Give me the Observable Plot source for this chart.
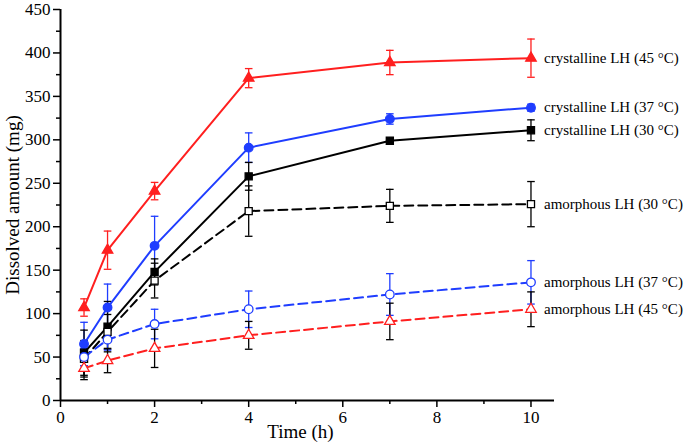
<!DOCTYPE html>
<html>
<head>
<meta charset="utf-8">
<script src="https://cdn.jsdelivr.net/npm/d3@7"></script>
<script src="https://cdn.jsdelivr.net/npm/@observablehq/plot@0.6"></script>
<style>
  html, body { margin: 0; padding: 0; background: #fff; }
  #chart svg { display: block; }
</style>
</head>
<body>
<div id="chart"></div>
<script>
// ---- data ----
const times = [0.5, 1, 2, 4, 7, 10];
const seriesNames = [
  "crystalline LH (45 °C)",
  "crystalline LH (37 °C)",
  "crystalline LH (30 °C)",
  "amorphous LH (30 °C)",
  "amorphous LH (37 °C)",
  "amorphous LH (45 °C)"
];
const cryst45 = [107, 173, 241, 371, 389, 394];
const cryst45Err = [10, 22, 10, 11, 14, 22];
const cryst37 = [65, 107, 178, 291, 324, 337];
const cryst37Err = [25, 27, 34, 17, 6, 4];
const cryst30 = [55, 85, 148, 258, 299, 311];
const cryst30Err = [26, 29, 15, 16, 3, 12];
const amorph30 = [48, 79, 138, 218, 224, 226];
const amorph30Err = [21, 20, 20, 29, 19, 26];
const amorph37 = [50, 70, 88, 105, 122, 136];
const amorph37Err = [10, 12, 17, 21, 24, 25];
const amorph45 = [37, 46, 60, 75, 91, 105];
const amorph45Err = [13, 14, 22, 16, 21, 20];
const yMajorTicks = [0, 50, 100, 150, 200, 250, 300, 350, 400, 450];
const yMinorTicks = [25, 75, 125, 175, 225, 275, 325, 375, 425];
const xMajorTicks = [0, 2, 4, 6, 8, 10];
const xMinorTicks = [1, 3, 5, 7, 9];

const RED = "#ff1f1f", BLUE = "#1f3dff", BLACK = "#000";
const styles = [
  {name: seriesNames[0], vals: cryst45, err: cryst45Err, color: RED, errColor: RED, symbol: "triangle", filled: true, dash: null},
  {name: seriesNames[1], vals: cryst37, err: cryst37Err, color: BLUE, errColor: BLUE, symbol: "circle", filled: true, dash: null},
  {name: seriesNames[2], vals: cryst30, err: cryst30Err, color: BLACK, errColor: BLACK, symbol: "square", filled: true, dash: null},
  {name: seriesNames[3], vals: amorph30, err: amorph30Err, color: BLACK, errColor: BLACK, symbol: "square", filled: false, dash: "9,5"},
  {name: seriesNames[4], vals: amorph37, err: amorph37Err, color: BLUE, errColor: BLUE, symbol: "circle", filled: false, dash: "9,5"},
  {name: seriesNames[5], vals: amorph45, err: amorph45Err, color: RED, errColor: BLACK, symbol: "triangle", filled: false, dash: "9,5"}
];

const rows = styles.map(s => times.map((t, i) => ({name: s.name, t, v: s.vals[i], e: s.err[i]})));

// horizontal cap symbol for error bars
const capSymbol = {
  draw(context, size) {
    const r = Math.sqrt(size / Math.PI);
    context.moveTo(-r, 0);
    context.lineTo(r, 0);
  }
};

const marks = [];
// error bars (under lines)
styles.forEach((s, k) => {
  const d = rows[k];
  marks.push(Plot.ruleX(d, {x: "t", y1: r => r.v - r.e, y2: r => r.v + r.e, stroke: s.errColor, strokeWidth: 1.3}));
  marks.push(Plot.dot(d, {x: "t", y: r => r.v - r.e, symbol: capSymbol, r: 3.8, stroke: s.errColor, strokeWidth: 1.3, fill: "none"}));
  marks.push(Plot.dot(d, {x: "t", y: r => r.v + r.e, symbol: capSymbol, r: 3.8, stroke: s.errColor, strokeWidth: 1.3, fill: "none"}));
});
// lines
styles.forEach((s, k) => {
  marks.push(Plot.line(rows[k], {x: "t", y: "v", stroke: s.color, strokeWidth: 2, strokeDasharray: s.dash}));
});
// markers
styles.forEach((s, k) => {
  const r = s.symbol === "triangle" ? 3.9 : (s.symbol === "square" ? 4 : 4.3);
  marks.push(Plot.dot(rows[k], {
    x: "t", y: "v", symbol: s.symbol, r,
    fill: s.filled ? s.color : "#fff",
    stroke: s.color, strokeWidth: 1.3
  }));
});
// right-side labels at last point
const lastRows = rows.map(d => d[d.length - 1]);
marks.push(Plot.text(lastRows, {x: "t", y: "v", text: "name", dx: 13, textAnchor: "start", fontSize: 15, fill: "#000"}));

// axes
marks.push(Plot.axisY(yMinorTicks, {tickSize: 4, text: null, strokeWidth: 1.5, label: null}));
marks.push(Plot.axisY(yMajorTicks, {tickSize: 7, tickPadding: 3, fontSize: 17, strokeWidth: 1.5, label: null}));
marks.push(Plot.axisX(xMinorTicks, {tickSize: 4, text: null, strokeWidth: 1.5, label: null}));
marks.push(Plot.axisX(xMajorTicks, {tickSize: 7, tickPadding: 3, fontSize: 17, strokeWidth: 1.5, label: null}));
marks.push(Plot.ruleX([0], {strokeWidth: 2, stroke: "#000"}));
marks.push(Plot.ruleY([0], {strokeWidth: 2, stroke: "#000"}));
// axis titles
marks.push(Plot.text(["Dissolved amount (mg)"], {frameAnchor: "left", rotate: -90, dx: -48, fontSize: 19, fontWeight: "normal", textAnchor: "middle"}));
marks.push(Plot.text(["Time (h)"], {frameAnchor: "bottom", dy: 37, dx: -7, fontSize: 19, fontWeight: "normal", textAnchor: "middle"}));

const chart = Plot.plot({
  width: 685,
  height: 448,
  marginLeft: 60,
  marginRight: 131,
  marginTop: 9,
  marginBottom: 48,
  x: {domain: [0, 10.5]},
  y: {domain: [0, 450]},
  style: {fontFamily: "'Liberation Serif', 'Times New Roman', serif", background: "#fff", color: "#000"},
  marks
});
document.getElementById("chart").appendChild(chart);
</script>
</body>
</html>
